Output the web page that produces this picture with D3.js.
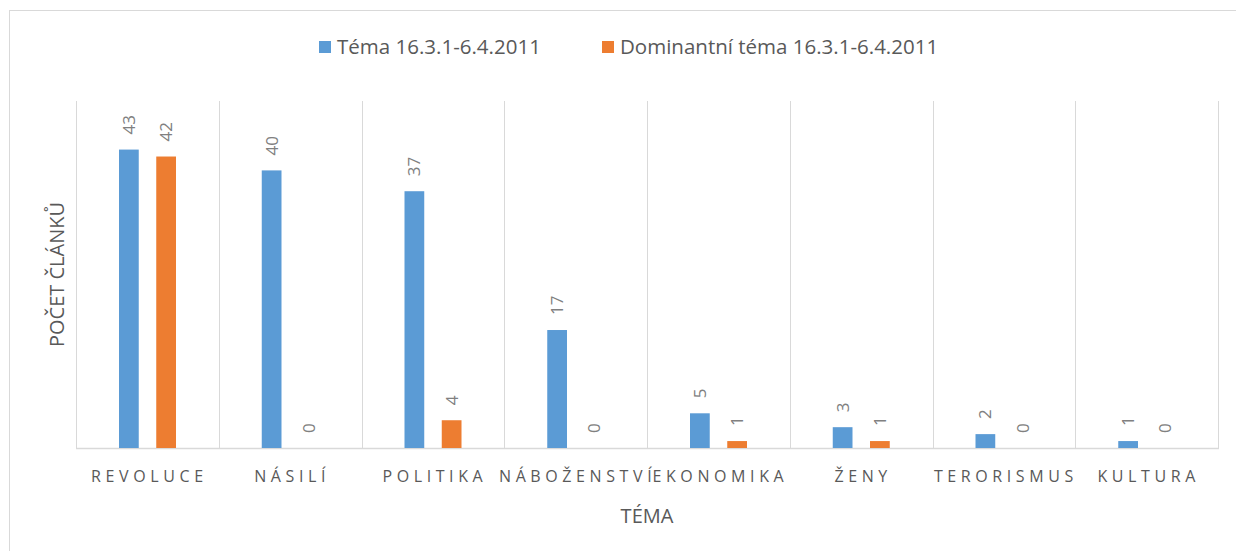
<!DOCTYPE html>
<meta charset="utf-8">
<title>Téma 16.3.1-6.4.2011</title>
<body>
<script src="https://cdn.jsdelivr.net/npm/d3@7"></script>
<style>
html, body {
    margin: 0;
    background: #fff;
}

svg {
    display: block;
    font-family: "Open Sans", "Noto Sans", sans-serif;
}
</style>

<script>
var categories = ["REVOLUCE", "NÁSILÍ", "POLITIKA", "NÁBOŽENSTVÍ", "EKONOMIKA", "ŽENY", "TERORISMUS", "KULTURA"];
var seriesNames = ["Téma 16.3.1-6.4.2011", "Dominantní téma 16.3.1-6.4.2011"];
var tema = [43, 40, 37, 17, 5, 3, 2, 1];
var dominantni = [42, 0, 4, 0, 1, 1, 0, 0];
var colors = ["#5b9bd5", "#ed7d31"];

var width = 1236,
    height = 551,
    plot = {left: 76, right: 1218, top: 101, bottom: 448};

var svg = d3.select("body").append("svg")
    .attr("width", width)
    .attr("height", height);

// chart frame
svg.append("rect")
    .attr("x", 9.5)
    .attr("y", 10.5)
    .attr("width", 1400)
    .attr("height", 700)
    .attr("fill", "none")
    .attr("stroke", "#d9d9d9");

var x0 = d3.scaleBand()
    .domain(categories)
    .range([plot.left, plot.right]);

var x1 = d3.scaleBand()
    .domain(d3.range(seriesNames.length))
    .range([43, 100])
    .paddingInner(0.47);

var y = d3.scaleLinear()
    .domain([0, 50])
    .range([plot.bottom, plot.top]);

// vertical separators between categories
svg.append("g")
    .selectAll("line")
    .data(categories.concat(["end"]))
    .enter().append("line")
    .attr("x1", function(d, i) { return Math.round(plot.left + i * x0.step()) + 0.5; })
    .attr("x2", function(d, i) { return Math.round(plot.left + i * x0.step()) + 0.5; })
    .attr("y1", plot.top)
    .attr("y2", plot.bottom)
    .attr("stroke", "#d9d9d9");

svg.append("line")
    .attr("x1", plot.left)
    .attr("x2", plot.right + 1)
    .attr("y1", plot.bottom + 0.5)
    .attr("y2", plot.bottom + 0.5)
    .attr("stroke", "#d9d9d9")
    .attr("stroke-width", 1.5);

var rows = categories.map(function(c, i) {
    return {cat: c, values: [tema[i], dominantni[i]]};
});

var groups = svg.append("g")
    .selectAll("g")
    .data(rows)
    .enter().append("g")
    .attr("transform", function(d) { return "translate(" + x0(d.cat) + ",0)"; });

groups.selectAll("rect")
    .data(function(d) { return d.values; })
    .enter().append("rect")
    .attr("x", function(d, i) { return x1(i); })
    .attr("width", x1.bandwidth())
    .attr("y", function(d) { return y(d); })
    .attr("height", function(d) { return plot.bottom - y(d); })
    .attr("fill", function(d, i) { return colors[i]; });

groups.selectAll("text")
    .data(function(d) { return d.values; })
    .enter().append("text")
    .attr("transform", function(d, i) {
        return "translate(" + (x1(i) + x1.bandwidth() / 2) + "," + (y(d) - 15) + ")rotate(-90)";
    })
    .attr("dy", "0.35em")
    .attr("fill", "#808080")
    .style("font-size", "17px")
    .text(function(d) { return d; });

// category labels
svg.append("g")
    .selectAll("text")
    .data(categories)
    .enter().append("text")
    .attr("x", function(d) { return x0(d) + x0.bandwidth() / 2 + 2; })
    .attr("y", 482)
    .attr("text-anchor", "middle")
    .attr("fill", "#595959")
    .style("font-size", "16px")
    .style("letter-spacing", "4.6px")
    .text(function(d) { return d; });

// axis titles
svg.append("text")
    .attr("x", (plot.left + plot.right) / 2)
    .attr("y", 523)
    .attr("text-anchor", "middle")
    .attr("fill", "#595959")
    .style("font-size", "20px")
    .text("TÉMA");

svg.append("text")
    .attr("transform", "translate(57," + (plot.top + plot.bottom) / 2 + ")rotate(-90)")
    .attr("text-anchor", "middle")
    .attr("dy", "0.35em")
    .attr("fill", "#595959")
    .style("font-size", "20px")
    .text("POČET ČLÁNKŮ");

// legend
var legendX = [319, 602];
var legend = svg.append("g")
    .selectAll("g")
    .data(seriesNames)
    .enter().append("g")
    .attr("transform", function(d, i) { return "translate(" + legendX[i] + ",41)"; });

legend.append("rect")
    .attr("width", 12)
    .attr("height", 12)
    .attr("fill", function(d, i) { return colors[i]; });

legend.append("text")
    .attr("x", 18)
    .attr("y", 6)
    .attr("dy", "0.35em")
    .attr("fill", "#595959")
    .style("font-size", "20.5px")
    .text(function(d) { return d; });
</script>
